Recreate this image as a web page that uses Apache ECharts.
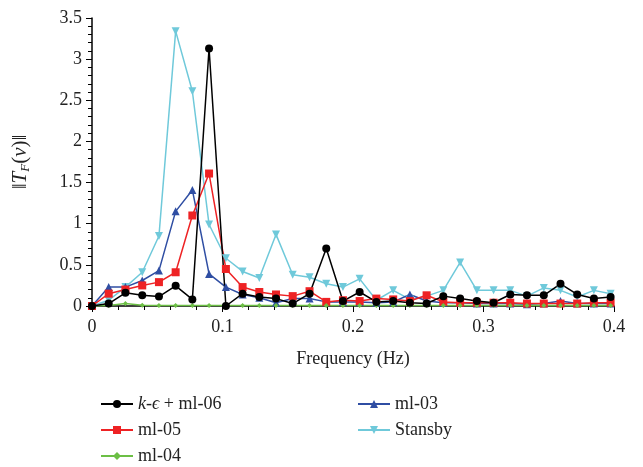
<!DOCTYPE html>
<html>
<head>
<meta charset="utf-8">
<script src="https://cdn.jsdelivr.net/npm/echarts@6/dist/echarts.min.js"></script>
<style>
  html, body { margin: 0; padding: 0; background: #fff; }
  #chart { width: 643px; height: 467px; }
</style>
</head>
<body>
<div id="chart"></div>
<script>
// frequencies (Hz), step ~1/78
var freq = [0, 0.0128, 0.0256, 0.0385, 0.0513, 0.0641, 0.0769, 0.0897, 0.1026, 0.1154,
    0.1282, 0.1410, 0.1538, 0.1667, 0.1795, 0.1923, 0.2051, 0.2179, 0.2308, 0.2436,
    0.2564, 0.2692, 0.2821, 0.2949, 0.3077, 0.3205, 0.3333, 0.3462, 0.3590, 0.3718,
    0.3846, 0.3974];

var kEps = [0, 0.03, 0.16, 0.13, 0.115, 0.245, 0.08, 3.13, 0, 0.15,
    0.11, 0.09, 0.03, 0.15, 0.70, 0.06, 0.17, 0.05, 0.06, 0.04,
    0.03, 0.12, 0.09, 0.06, 0.04, 0.14, 0.13, 0.13, 0.27, 0.14,
    0.09, 0.11];
var ml05 = [0, 0.15, 0.20, 0.25, 0.29, 0.41, 1.10, 1.61, 0.45, 0.23,
    0.17, 0.14, 0.12, 0.18, 0.05, 0.07, 0.06, 0.09, 0.08, 0.06,
    0.13, 0.05, 0.04, 0.04, 0.04, 0.04, 0.03, 0.03, 0.03, 0.03,
    0.04, 0.04];
var ml04 = [0, 0.005, 0.03, 0.01, 0.005, 0.005, 0.005, 0.005, 0.005, 0.005,
    0.005, 0.005, 0.005, 0.005, 0.005, 0.005, 0.005, 0.005, 0.005, 0.005,
    0.005, 0.005, 0.005, 0.005, 0.005, 0.005, 0.005, 0.005, 0.005, 0.005,
    0.005, 0.005];
var ml03 = [0, 0.23, 0.23, 0.31, 0.43, 1.15, 1.41, 0.39, 0.23, 0.14,
    0.10, 0.04, 0.09, 0.09, 0.05, 0.05, 0.05, 0.04, 0.05, 0.14,
    0.06, 0.04, 0.04, 0.03, 0.03, 0.03, 0.02, 0.03, 0.06, 0.03,
    0.03, 0.03];
var stansby = [0, 0.07, 0.23, 0.41, 0.85, 3.34, 2.61, 0.99, 0.58, 0.42,
    0.34, 0.87, 0.38, 0.35, 0.27, 0.23, 0.33, 0.07, 0.19, 0.08,
    0.12, 0.19, 0.53, 0.19, 0.19, 0.19, 0.12, 0.22, 0.19, 0.11,
    0.19, 0.15];

var names = ['k-\u03f5 + ml-06', 'ml-05', 'ml-04', 'ml-03', 'Stansby'];

function pairs(ys) {
    var out = [];
    for (var i = 0; i < freq.length; i++) {
        out.push([freq[i], ys[i]]);
    }
    return out;
}

var font = '"Liberation Serif", "DejaVu Serif", serif';

function mkSeries(name, ys, color, symbol, size, rotate) {
    return {
        name: name,
        type: 'line',
        data: pairs(ys),
        symbol: symbol,
        symbolSize: size,
        symbolRotate: rotate || 0,
        showAllSymbol: true,
        lineStyle: { color: color, width: 1.5 },
        itemStyle: { color: color },
        emphasis: { disabled: true },
        animation: false
    };
}

var legendText = {
    fontFamily: font, fontSize: 18, color: '#222',
    rich: {
        i: { fontFamily: font, fontStyle: 'italic', fontSize: 18, color: '#222' },
        r: { fontFamily: font, fontSize: 18, color: '#222' }
    }
};
function legendFmt(n) {
    if (n === names[0]) return '{i|k}{r|-}{i|\u03f5}{r| + ml-06}';
    return n;
}

var chart = echarts.init(document.getElementById('chart'));
chart.setOption({
    animation: false,
    grid: { left: 92, right: 29, top: 18, bottom: 161 },
    xAxis: {
        type: 'value',
        min: 0, max: 0.4, interval: 0.1,
        name: 'Frequency (Hz)',
        nameLocation: 'middle',
        nameGap: 44,
        nameTextStyle: { fontFamily: font, fontSize: 18, color: '#222' },
        axisLine: { lineStyle: { color: '#000', width: 1.5 } },
        axisTick: { show: true, length: 6, lineStyle: { color: '#000' } },
        minorTick: { show: true, splitNumber: 5, length: 4, lineStyle: { color: '#000' } },
        splitLine: { show: false },
        axisLabel: { fontFamily: font, fontSize: 18, color: '#222', margin: 12 }
    },
    yAxis: {
        type: 'value',
        min: 0, max: 3.5, interval: 0.5,
        name: '{n|\u2016}{i|T}{s|F}{n|(}{i|\u03bd}{n|)\u2016}',
        nameLocation: 'middle',
        nameGap: 60,
        nameTextStyle: {
            fontFamily: font, fontSize: 21, color: '#222',
            rich: {
                n: { fontFamily: font, fontSize: 21, color: '#222' },
                i: { fontFamily: font, fontStyle: 'italic', fontSize: 21, color: '#222' },
                s: { fontFamily: font, fontStyle: 'italic', fontSize: 13, color: '#222', padding: [10, 0, 0, 0] }
            }
        },
        axisLine: { show: true, lineStyle: { color: '#000', width: 1.5 } },
        axisTick: { show: true, length: 6, lineStyle: { color: '#000' } },
        minorTick: { show: true, splitNumber: 5, length: 4, lineStyle: { color: '#000' } },
        splitLine: { show: false },
        axisLabel: { fontFamily: font, fontSize: 18, color: '#222', margin: 10 }
    },
    legend: [{
        data: [names[0], names[1], names[2]],
        orient: 'vertical',
        left: 95, top: 390, height: 90,
        itemWidth: 32, itemHeight: 10, itemGap: 8,
        textStyle: legendText,
        formatter: legendFmt
    }, {
        data: [names[3], names[4]],
        orient: 'vertical',
        left: 352, top: 390, height: 90,
        itemWidth: 32, itemHeight: 10, itemGap: 8,
        textStyle: legendText,
        formatter: legendFmt
    }],
    series: [
        mkSeries(names[4], stansby, '#6fc9da', 'triangle', 8, 180),
        mkSeries(names[3], ml03, '#2f4ea3', 'triangle', 8),
        mkSeries(names[1], ml05, '#ee2224', 'rect', 8),
        mkSeries(names[2], ml04, '#6cbf45', 'diamond', 5),
        mkSeries(names[0], kEps, '#000000', 'circle', 8)
    ]
});
</script>
</body>
</html>
